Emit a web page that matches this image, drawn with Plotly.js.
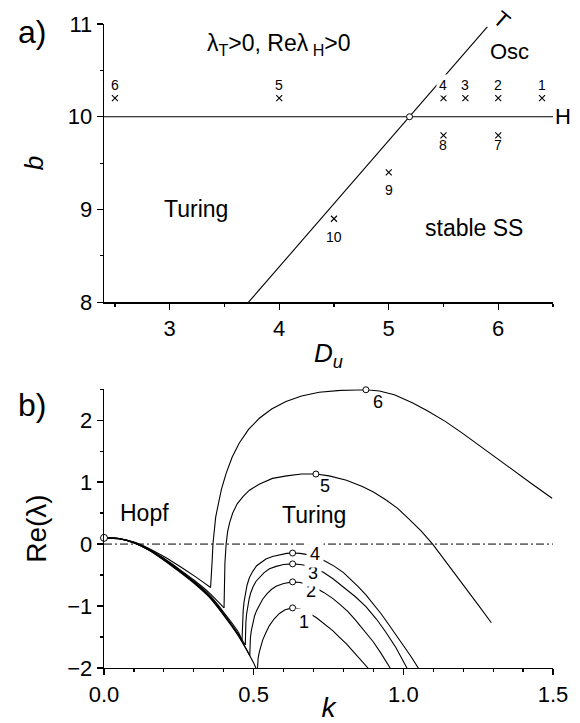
<!DOCTYPE html>
<html><head><meta charset="utf-8">
<script src="https://cdn.plot.ly/plotly-3.0.1.min.js"></script>
<style>html,body{margin:0;padding:0;background:#fff}#chart{width:580px;height:723px}</style>
</head><body><div id="chart"></div>
<script>
// ---------- panel a: (Du, b) parameter plane ----------
const pointLabels = ['1','2','3','4','5','6','7','8','9','10'];
const pointDu = [6.4, 6.0, 5.7, 5.5, 4.0, 2.5, 6.0, 5.5, 5.0, 4.5];
const pointB  = [10.2, 10.2, 10.2, 10.2, 10.2, 10.2, 9.8, 9.8, 9.4, 8.9];
const hopfLineDu = [2.4, 6.5];
const hopfLineB  = [10, 10];
const turingLineDu = [3.72, 5.9];
const turingLineB  = [8, 10.97];
const codimDu = [5.19];
const codimB  = [10];

// ---------- panel b: Re(lambda) vs k ----------
const curveNames = ['1','2','3','4','5','6'];
const hopfK = {
  '1': [0, 0.05, 0.1, 0.15, 0.2, 0.25, 0.3, 0.35, 0.4, 0.45, 0.5, 0.512],
  '2': [0, 0.05, 0.1, 0.15, 0.2, 0.25, 0.3, 0.35, 0.4, 0.45, 0.487],
  '3': [0, 0.05, 0.1, 0.15, 0.2, 0.25, 0.3, 0.35, 0.4, 0.45, 0.472],
  '4': [0, 0.05, 0.1, 0.15, 0.2, 0.25, 0.3, 0.35, 0.4, 0.45, 0.461],
  '5': [0, 0.05, 0.1, 0.15, 0.2, 0.25, 0.3, 0.35, 0.401],
  '6': [0, 0.05, 0.1, 0.15, 0.2, 0.25, 0.3, 0.356]
};
const hopfRe = {
  '1': [0.1, 0.085, 0.018, -0.1, -0.26, -0.44, -0.63, -0.85, -1.15, -1.49, -1.92, -2.05],
  '2': [0.1, 0.086, 0.02, -0.097, -0.255, -0.43, -0.62, -0.84, -1.14, -1.48, -1.8],
  '3': [0.1, 0.087, 0.022, -0.093, -0.25, -0.42, -0.61, -0.83, -1.12, -1.46, -1.63],
  '4': [0.1, 0.088, 0.025, -0.09, -0.24, -0.41, -0.6, -0.81, -1.1, -1.43, -1.56],
  '5': [0.1, 0.09, 0.03, -0.08, -0.23, -0.4, -0.58, -0.78, -1.03],
  '6': [0.1, 0.09, 0.032, -0.07, -0.2, -0.35, -0.51, -0.70]
};
const turingK = {
  '1': [0.512, 0.513, 0.515, 0.519, 0.524, 0.53, 0.54, 0.552, 0.568, 0.586, 0.605, 0.63, 0.655, 0.68, 0.71, 0.74, 0.765, 0.786, 0.81, 0.83, 0.855, 0.882],
  '2': [0.487, 0.4875, 0.489, 0.492, 0.497, 0.503, 0.51, 0.52, 0.53, 0.545, 0.56, 0.575, 0.6, 0.63, 0.655, 0.68, 0.705, 0.734, 0.765, 0.79, 0.815, 0.841, 0.87, 0.9, 0.925, 0.956],
  '3': [0.472, 0.4725, 0.474, 0.476, 0.48, 0.485, 0.49, 0.498, 0.508, 0.52, 0.535, 0.553, 0.575, 0.6, 0.63, 0.655, 0.68, 0.705, 0.734, 0.765, 0.8, 0.84, 0.875, 0.91, 0.94, 0.975, 1.012],
  '4': [0.461, 0.4615, 0.463, 0.465, 0.468, 0.472, 0.478, 0.486, 0.497, 0.51, 0.525, 0.541, 0.563, 0.586, 0.61, 0.63, 0.655, 0.68, 0.71, 0.741, 0.77, 0.8, 0.825, 0.85, 0.875, 0.897, 0.925, 0.95, 0.975, 1.0, 1.025, 1.05],
  '5': [0.401, 0.4015, 0.402, 0.404, 0.408, 0.413, 0.42, 0.43, 0.445, 0.465, 0.486, 0.52, 0.563, 0.61, 0.66, 0.708, 0.752, 0.81, 0.863, 0.9, 0.94, 0.98, 1.02, 1.06, 1.098, 1.15, 1.2, 1.25, 1.294],
  '6': [0.356, 0.3575, 0.359, 0.361, 0.364, 0.368, 0.373, 0.38, 0.392, 0.408, 0.428, 0.452, 0.483, 0.519, 0.56, 0.608, 0.66, 0.719, 0.79, 0.875, 0.92, 0.97, 1.03, 1.08, 1.14, 1.197, 1.25, 1.31, 1.363, 1.43, 1.497]
};
const turingRe = {
  '1': [-2.06, -1.95, -1.84, -1.74, -1.65, -1.55, -1.44, -1.32, -1.21, -1.12, -1.06, -1.03, -1.05, -1.1, -1.19, -1.3, -1.4, -1.5, -1.61, -1.72, -1.85, -2.0],
  '2': [-1.8, -1.65, -1.52, -1.4, -1.27, -1.16, -1.07, -0.97, -0.89, -0.8, -0.73, -0.68, -0.635, -0.61, -0.62, -0.65, -0.7, -0.78, -0.88, -0.98, -1.09, -1.23, -1.4, -1.58, -1.76, -2.0],
  '3': [-1.63, -1.45, -1.27, -1.14, -1.0, -0.88, -0.79, -0.69, -0.6, -0.53, -0.46, -0.4, -0.36, -0.33, -0.32, -0.33, -0.35, -0.39, -0.46, -0.56, -0.69, -0.85, -1.01, -1.21, -1.41, -1.67, -2.0],
  '4': [-1.56, -1.4, -1.22, -1.07, -0.93, -0.8, -0.66, -0.54, -0.44, -0.35, -0.29, -0.24, -0.2, -0.17, -0.15, -0.145, -0.15, -0.17, -0.21, -0.28, -0.36, -0.46, -0.57, -0.69, -0.82, -0.95, -1.12, -1.29, -1.46, -1.63, -1.81, -2.0],
  '5': [-1.03, -0.85, -0.6, -0.3, 0.0, 0.2, 0.35, 0.5, 0.65, 0.77, 0.87, 0.97, 1.06, 1.1, 1.13, 1.13, 1.1, 1.03, 0.93, 0.84, 0.72, 0.58, 0.4, 0.21, 0.0, -0.33, -0.66, -0.98, -1.27],
  '6': [-0.7, -0.62, -0.5, -0.3, 0.0, 0.25, 0.43, 0.6, 0.88, 1.14, 1.4, 1.63, 1.85, 2.03, 2.18, 2.3, 2.39, 2.45, 2.48, 2.49, 2.47, 2.41, 2.28, 2.15, 1.98, 1.79, 1.6, 1.39, 1.2, 0.97, 0.74]
};
const peakK  = [0.63, 0.63, 0.63, 0.63, 0.708, 0.875];
const peakRe = [-1.03, -0.61, -0.32, -0.145, 1.13, 2.49];
const hopfPointK = [0];
const hopfPointRe = [0.1];
const zeroLineK = [0, 1.5];
const zeroLineRe = [0, 0];
const curveLabelK  = [0.669, 0.691, 0.699, 0.706, 0.739, 0.917];
const curveLabelRe = [-1.26, -0.76, -0.47, -0.16, 0.93, 2.29];

// ---------- build ----------
const FONT = 'Liberation Sans, Arial, Helvetica, sans-serif';
const black = '#000';
const traces = [];

traces.push({x: hopfLineDu, y: hopfLineB, xaxis:'x', yaxis:'y', mode:'lines', line:{color:black, width:1.1}, hoverinfo:'skip'});
traces.push({x: turingLineDu, y: turingLineB, xaxis:'x', yaxis:'y', mode:'lines', line:{color:black, width:1.1}, hoverinfo:'skip'});
traces.push({x: pointDu, y: pointB, xaxis:'x', yaxis:'y', mode:'markers',
  marker:{symbol:'x-thin', size:6, color:black, line:{color:black, width:1.1}}});
traces.push({x: codimDu, y: codimB, xaxis:'x', yaxis:'y', mode:'markers',
  marker:{symbol:'circle', size:6, color:'#fff', line:{color:black, width:1}}});

traces.push({x: zeroLineK, y: zeroLineRe, xaxis:'x2', yaxis:'y2', mode:'lines',
  line:{color:black, width:1, dash:'8px,3px,2px,3px'}, hoverinfo:'skip'});
curveNames.forEach(c => {
  traces.push({x: hopfK[c], y: hopfRe[c], xaxis:'x2', yaxis:'y2', mode:'lines',
    line:{color:black, width:1.1, shape:'spline', smoothing:0.6}, name:'curve '+c+' (Hopf branch)'});
  traces.push({x: turingK[c], y: turingRe[c], xaxis:'x2', yaxis:'y2', mode:'lines',
    line:{color:black, width:1.1}, name:'curve '+c+' (Turing branch)'});
});
traces.push({x: peakK, y: peakRe, xaxis:'x2', yaxis:'y2', mode:'markers', cliponaxis:false,
  marker:{symbol:'circle', size:6, color:'#fff', line:{color:black, width:1}}});
traces.push({x: hopfPointK, y: hopfPointRe, xaxis:'x2', yaxis:'y2', mode:'markers', cliponaxis:false,
  marker:{symbol:'circle', size:7, color:'#fff', line:{color:black, width:1}}});

const annotations = [];
const labelShift = [13,13,13,13,13,13,-10,-10,-18,-18];
pointLabels.forEach((t,i) => {
  annotations.push({x: pointDu[i], y: pointB[i], xref:'x', yref:'y', text:t, showarrow:false, xanchor:'center', yanchor:'middle',
    yshift: labelShift[i], font:{family:FONT, size:14, color:black}, bgcolor: i===3 ? '#fff' : 'rgba(0,0,0,0)', borderpad:2});
});
curveNames.forEach((t,i) => {
  annotations.push({x: curveLabelK[i], y: curveLabelRe[i], xref:'x2', yref:'y2', text:t, showarrow:false, xanchor:'center', yanchor:'middle',
    font:{family:FONT, size:18, color:black}, bgcolor: i<4 ? '#fff' : 'rgba(0,0,0,0)', borderpad:3});
});
const txt = (x,y,xref,yref,text,size,extra) => Object.assign({x,y,xref,yref,text,showarrow:false,xanchor:'center',yanchor:'middle',
  font:{family:FONT,size,color:black}}, extra||{});
annotations.push(txt(4.0, 10.78, 'x','y', 'λ<sub>T</sub>>0, Reλ<sub> H</sub>>0', 23));
annotations.push(txt(6.1, 10.7, 'x','y', 'Osc', 22));
annotations.push(txt(3.24, 9.0, 'x','y', 'Turing', 23));
annotations.push(txt(5.78, 8.8, 'x','y', 'stable SS', 23));
annotations.push(txt(1.022, 10, 'paper','y', 'H', 22));
annotations.push(txt(0.885, 1.007, 'paper','paper', 'T', 22, {textangle:41}));
annotations.push(txt(0.136, 0.5, 'x2','y2', 'Hopf', 23));
annotations.push(txt(0.70, 0.47, 'x2','y2', 'Turing', 23));
annotations.push(txt(-0.16, 0.988, 'paper','paper', 'a)', 32));
annotations.push(txt(-0.16, 0.408, 'paper','paper', 'b)', 32));

const axisBase = {showline:true, linecolor:black, linewidth:1.3, ticks:'outside', ticklen:6, tickwidth:1.2, tickcolor:black,
  showgrid:false, zeroline:false, tickfont:{family:FONT, size:22, color:black}, mirror:false};
const minorBase = {ticks:'outside', ticklen:3, tickwidth:1.2, tickcolor:black, showgrid:false};
const layout = {
  width:580, height:723, margin:{l:104, r:27, t:24, b:55},
  paper_bgcolor:'#fff', plot_bgcolor:'#fff', showlegend:false,
  font:{family:FONT, color:black},
  xaxis: Object.assign({}, axisBase, {domain:[0,1], anchor:'y', range:[2.4,6.5], tick0:0, dtick:1,
    minor:Object.assign({dtick:0.5}, minorBase),
    title:{text:'<i>D</i><sub><i>u</i></sub>', font:{family:FONT, size:26, color:black}, standoff:4}}),
  yaxis: Object.assign({}, axisBase, {domain:[0.568,1], anchor:'x', range:[8,11], tick0:0, dtick:1,
    minor:Object.assign({dtick:0.5}, minorBase),
    title:{text:'<i>b</i>', font:{family:FONT, size:26, color:black}, standoff:16}}),
  xaxis2: Object.assign({}, axisBase, {domain:[0,1], anchor:'y2', range:[0,1.5], tick0:0, dtick:0.5, tickformat:'.1f',
    minor:Object.assign({dtick:0.1}, minorBase),
    title:{text:'<i>k</i>', font:{family:FONT, size:28, color:black}, standoff:2}}),
  yaxis2: Object.assign({}, axisBase, {domain:[0,0.433], anchor:'x2', range:[-2,2.5], tick0:0, dtick:1,
    minor:Object.assign({dtick:0.5}, minorBase),
    title:{text:'Re(λ)', font:{family:FONT, size:28, color:black}, standoff:12}}),
  annotations: annotations
};
Plotly.newPlot('chart', traces, layout, {displayModeBar:false, staticPlot:true});
</script></body></html>
